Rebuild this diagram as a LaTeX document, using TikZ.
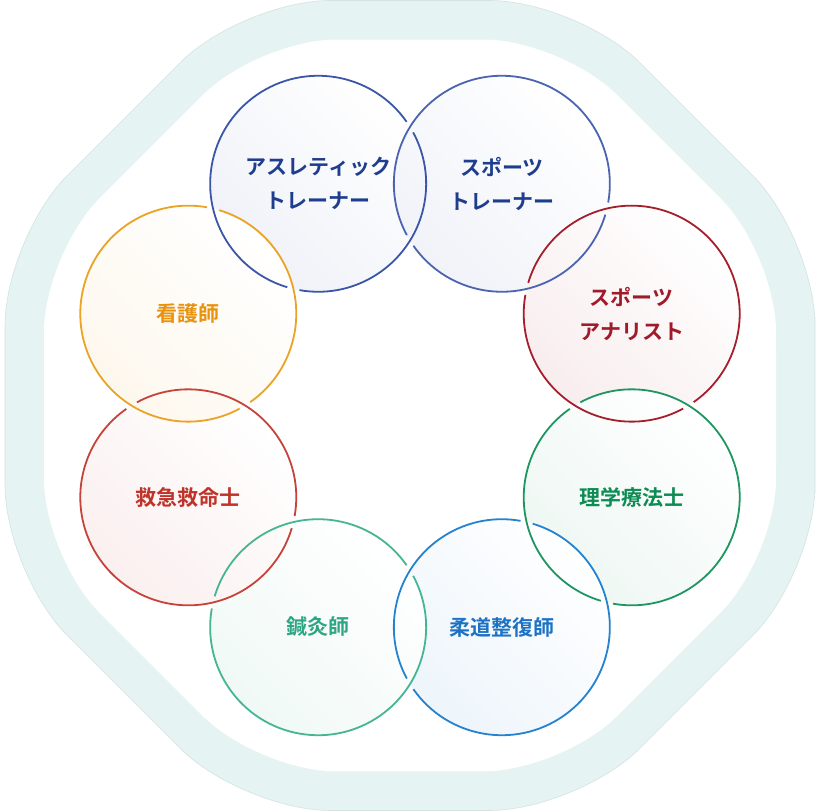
\documentclass[tikz,border=0pt]{standalone}
\usepackage{fontspec}
\newfontfamily\jp{Noto Sans CJK JP}[BoldFont={Noto Sans CJK JP Bold}]
\usetikzlibrary{calc}
\definecolor{band}{HTML}{E5F4F2}
\definecolor{bandline}{HTML}{D3E2E2}
\definecolor{cAT}{HTML}{3B56A6}\definecolor{tAT}{HTML}{1F3D8E}
\definecolor{cST}{HTML}{4A64B0}\definecolor{tST}{HTML}{1F3D8E}
\definecolor{cAN}{HTML}{A51E2C}\definecolor{tAN}{HTML}{A01A2A}
\definecolor{cPT}{HTML}{1F9560}\definecolor{tPT}{HTML}{0F8C54}
\definecolor{cJU}{HTML}{2482CE}\definecolor{tJU}{HTML}{1C72C4}
\definecolor{cAC}{HTML}{45B593}\definecolor{tAC}{HTML}{2FA683}
\definecolor{cEM}{HTML}{C5433A}\definecolor{tEM}{HTML}{C0332B}
\definecolor{cNU}{HTML}{EBA326}\definecolor{tNU}{HTML}{E8920E}
\tikzset{
  lab/.style={font=\jp\bfseries\fontsize{21}{34}\selectfont, align=center, inner sep=0pt},
  ringline/.style={line width=1.8pt, line cap=butt}
}
\begin{document}
\begin{tikzpicture}[x=1pt,y=1pt]
\useasboundingbox (0,0) rectangle (820,811);
\coordinate (O) at (410,405.5);
\begin{scope}[shift={(O)}]
  \filldraw[fill=band, draw=bandline, line width=0.6pt, rounded corners=88pt]
    (0:405) -- (22.5:438.37) -- (67.5:438.37) -- (112.5:438.37) -- (157.5:438.37)
    -- (202.5:438.37) -- (247.5:438.37) -- (292.5:438.37) -- (337.5:438.37) -- cycle;
  \fill[white, rounded corners=78pt]
    (0:366) -- (22.5:396.15) -- (67.5:396.15) -- (112.5:396.15) -- (157.5:396.15)
    -- (202.5:396.15) -- (247.5:396.15) -- (292.5:396.15) -- (337.5:396.15) -- cycle;
\end{scope}
\foreach \n/\t in {at/112.5, st/67.5, an/22.5, pt/-22.5, ju/-67.5, ac/-112.5, em/-157.5, nu/157.5}{
  \coordinate (\n) at ($(O)+(\t:240)$);
}
\foreach \n/\c in {at/cAT, st/cST, an/cAN, pt/cPT, ju/cJU, ac/cAC, em/cEM, nu/cNU}{
  \shade[top color=white, bottom color=\c!8!white, shading angle=-45] (\n) circle[radius=108];
}
\foreach \n/\t/\c in {at/112.5/cAT, st/67.5/cST, an/22.5/cAN, pt/-22.5/cPT, ju/-67.5/cJU, ac/-112.5/cAC, em/-157.5/cEM, nu/157.5/cNU}{
  \pgfmathsetmacro\sa{\t-80.8+3.3}
  \pgfmathsetmacro\ea{\t+144.2-3.3}
  \pgfmathsetmacro\sb{\t+144.2+3.3}
  \pgfmathsetmacro\eb{\t-80.8+360-3.3}
  \draw[ringline, \c] (\n) ++(\sa:108) arc[start angle=\sa, end angle=\ea, radius=108];
  \draw[ringline, \c] (\n) ++(\sb:108) arc[start angle=\sb, end angle=\eb, radius=108];
}
\node[lab, text=tAT] (lat) at (at) {アスレティック\\トレーナー};
\node[lab, text=tST] (lst) at (st) {スポーツ\\トレーナー};
\node[lab, text=tAN] (lan) at (an) {スポーツ\\アナリスト};
\node[lab, text=tPT] (lpt) at (pt) {理学療法士};
\node[lab, text=tJU] (lju) at (ju) {柔道整復師};
\node[lab, text=tAC] (lac) at (ac) {鍼灸師};
\node[lab, text=tEM] (lem) at (em) {救急救命士};
\node[lab, text=tNU] (lnu) at (nu) {看護師};
\end{tikzpicture}
\end{document}
